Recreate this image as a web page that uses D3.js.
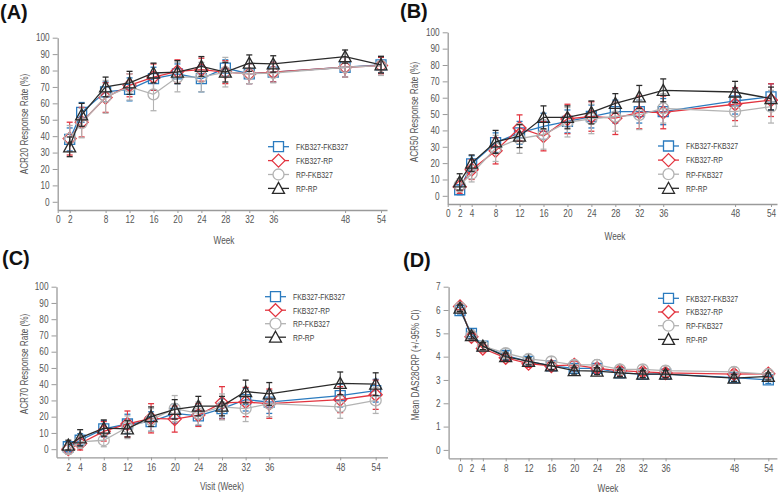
<!DOCTYPE html>
<html><head><meta charset="utf-8">
<script src="https://cdn.jsdelivr.net/npm/d3@7"></script>
<style>
body{margin:0;background:#fff;}
svg{display:block;}
text{font-family:"Liberation Sans",Arial,sans-serif;}
.title{font-family:"Liberation Sans",Arial,sans-serif;font-weight:bold;font-size:20px;fill:#111;}
</style></head>
<body>
<svg id="c" width="778" height="495"></svg>
<script>
// ---------- DATA ----------
const seriesNames = ["FKB327-FKB327","FKB327-RP","RP-FKB327","RP-RP"];
const seriesColors = ["#2b7bbf","#e2343f","#b3b3b3","#2a2a2a"];
const seriesShapes = ["square","diamond","circle","triangle"];

const weeksACR = [2,4,8,12,16,20,24,28,32,36,48,54];
const weeksDAS = [0,2,4,8,12,16,20,24,28,32,36,48,54];

const xTicksA = [0,2,8,12,16,20,24,28,32,36,48,54];
const xTicksB = [0,2,4,8,12,16,20,24,28,32,36,48,54];
const xTicksC = [2,4,8,12,16,20,24,28,32,36,48,54];
const xTicksD = [0,2,4,8,12,16,20,24,28,32,36,48,54];
const yTicksACR = [0,10,20,30,40,50,60,70,80,90,100];
const yTicksDAS = [0,1,2,3,4,5,6,7];

// ACR20 (%)  rows: FKB327-FKB327, FKB327-RP, RP-FKB327, RP-RP
const acr20Mean = [
  [38,54.5,67,68.5,75,78,75,81.5,78,79,82,83.5],
  [38.5,48.5,63.5,71,76,79.5,80.5,79,78,79,82,83],
  [38.5,48,64,70,65.5,76,76,79,78,78.5,82,83],
  [33.5,53,70,72.5,78.5,79,82.5,79,84.5,84,88.5,83.5]
];
const acr20Err = [
  [7,6,6,7,7,6,8,5,6,6,6,5],
  [10,9,9,7,8,7,7,7,6,6,6,5],
  [8,9,10,8,10,9,9,9,6,6,6,6],
  [6,7,6,7,6,7,6,6,5,5,4,5]
];
// ACR50 (%)
const acr50Mean = [
  [3.7,19.5,32.5,38.5,42.5,45.5,48.5,51.5,51.5,51.5,58,60.5],
  [5.5,16,27.5,41.5,36.5,47,48.5,47.5,51,51,56,58.5],
  [6.5,13.5,29,35,37.5,45,47,48.5,49.5,53.5,51.5,54.5],
  [8.5,20,33,36.5,48,48,51,56.5,60.5,64.5,63.5,59.5]
];
const acr50Err = [
  [3,5,6,7,8,7,7,7,7,8,8,8],
  [4,6,8,8,9,9,9,10,10,10,10,10],
  [4,5,8,9,9,9,9,9,9,9,9,10],
  [5,5,7,7,7,7,7,6,7,7,6.5,7]
];
// ACR70 (%)
const acr70Mean = [
  [1.5,5.5,12.5,15.5,17,22,20.5,25,30.5,29,33,36],
  [0,3.5,11,15.5,19,18.5,21,28.5,29,28,30.5,33.5],
  [0,4.5,5.5,13.5,18,25,22,26,25,28,26,30],
  [2.5,7,13,12.5,20,24.5,26.5,26.5,35.5,34,40.5,40]
];
const acr70Err = [
  [3,4,5,6,6,6,6,6,7,7,7,7],
  [3,4,6,8,9,8,7,10,9,9,8,9],
  [3,4,4,7,7,8,7,8,8,8,7,8],
  [3,5,5,5,6,6,6,6,7,7,7,7]
];
// Mean DAS28CRP
const dasMean = [
  [5.97,5.0,4.45,4.05,3.8,3.6,3.5,3.5,3.3,3.25,3.25,3.1,3.0],
  [6.15,4.85,4.35,3.95,3.7,3.6,3.65,3.5,3.4,3.35,3.3,3.25,3.27],
  [6.1,4.9,4.45,4.15,3.9,3.8,3.65,3.65,3.45,3.45,3.4,3.35,3.25],
  [6.08,4.9,4.45,4.0,3.8,3.6,3.4,3.38,3.3,3.25,3.25,3.08,3.15]
];
const dasErr = [
  [0.14,0.14,0.15,0.15,0.15,0.15,0.15,0.15,0.15,0.15,0.15,0.15,0.15],
  [0.14,0.14,0.15,0.15,0.16,0.16,0.16,0.16,0.16,0.16,0.16,0.18,0.18],
  [0.14,0.15,0.17,0.2,0.2,0.2,0.2,0.22,0.2,0.2,0.2,0.2,0.2],
  [0.14,0.14,0.15,0.15,0.15,0.15,0.15,0.15,0.15,0.15,0.15,0.15,0.15]
];

// ---------- DRAWING ----------
const svg = d3.select("#c");

// condense text horizontally (emulates a narrow typeface)
function narrow(sel, f){
  sel.each(function(){
    const w = this.getComputedTextLength();
    d3.select(this).attr("textLength", w*f).attr("lengthAdjust","spacingAndGlyphs");
  });
}

function shapePath(shape){
  if(shape==="square") return "M-5,-5H5V5H-5Z";
  if(shape==="diamond") return "M0,-6.5L6.5,0L0,6.5L-6.5,0Z";
  if(shape==="triangle") return "M0,-6L6,5H-6Z";
  return d3.symbol(d3.symbolCircle, Math.PI*5.5*5.5)();
}

function drawPanel(cfg){
  const g = svg.append("g");
  const x = d3.scaleLinear().domain(cfg.xDomain).range(cfg.xRange);
  const y = d3.scaleLinear().domain(cfg.yDomain).range(cfg.yRange);

  // axes
  const ax = d3.axisBottom(x).tickValues(cfg.xTicks).tickSize(3).tickPadding(3).tickSizeOuter(0);
  const ay = d3.axisLeft(y).tickValues(cfg.yTicks).tickSize(5).tickPadding(3).tickSizeOuter(0);
  const gx = g.append("g").attr("transform",`translate(0,${cfg.yRange[0]})`).call(ax);
  const gy = g.append("g").attr("transform",`translate(${cfg.xRange[0]},0)`).call(ay);
  [gx,gy].forEach(a=>{
    a.select(".domain").attr("stroke","#9a9a9a").attr("stroke-width",1.3);
    a.selectAll(".tick line").attr("stroke","#9a9a9a");
    a.selectAll(".tick text").attr("fill","#555").style("font-size","10.3px")
      .style("font-family",'"Liberation Sans",Arial,sans-serif');
    narrow(a.selectAll(".tick text"), 0.8);
  });

  // axis titles
  const xl = g.append("text").attr("x",cfg.xLabelX).attr("y",cfg.xLabelY).attr("text-anchor","middle")
    .attr("fill","#555").style("font-size","10.3px").text(cfg.xLabel);
  const yl = g.append("text").attr("transform",`translate(${cfg.yLabelX},${cfg.yLabelY}) rotate(-90)`)
    .attr("text-anchor","middle").attr("fill","#555").style("font-size","10.3px").text(cfg.yLabel);
  narrow(xl, 0.8); narrow(yl, 0.8);

  // panel title
  svg.append("text").attr("class","title").attr("x",cfg.titleX).attr("y",cfg.titleY).text(cfg.title);

  // series
  const line = d3.line().x(d=>x(d.w)).y(d=>y(d.v));
  cfg.means.forEach((vals,si)=>{
    const col = seriesColors[si];
    const pts = vals.map((v,i)=>({w:cfg.weeks[i],v:v,e:cfg.errs[si][i]}));
    const sg = g.append("g");
    sg.append("path").datum(pts).attr("d",line).attr("fill","none")
      .attr("stroke",col).attr("stroke-width",1.3);
    const eb = sg.selectAll(".eb").data(pts).enter().append("g");
    eb.append("line").attr("x1",d=>x(d.w)).attr("x2",d=>x(d.w))
      .attr("y1",d=>y(d.v-d.e)).attr("y2",d=>y(d.v+d.e)).attr("stroke",col).attr("stroke-width",1.1);
    eb.append("line").attr("x1",d=>x(d.w)-3).attr("x2",d=>x(d.w)+3)
      .attr("y1",d=>y(d.v+d.e)).attr("y2",d=>y(d.v+d.e)).attr("stroke",col).attr("stroke-width",1.3);
    eb.append("line").attr("x1",d=>x(d.w)-3).attr("x2",d=>x(d.w)+3)
      .attr("y1",d=>y(d.v-d.e)).attr("y2",d=>y(d.v-d.e)).attr("stroke",col).attr("stroke-width",1.3);
    sg.selectAll(".mk").data(pts).enter().append("path")
      .attr("transform",d=>`translate(${x(d.w)},${y(d.v)})`)
      .attr("d",shapePath(seriesShapes[si])).attr("fill","none")
      .attr("stroke",col).attr("stroke-width",1.3);
  });

  // legend
  const lg = g.append("g");
  seriesNames.forEach((nm,si)=>{
    const yy = cfg.legendY + si*cfg.legendStep;
    const col = seriesColors[si];
    lg.append("line").attr("x1",cfg.legendX).attr("x2",cfg.legendX+21)
      .attr("y1",yy).attr("y2",yy).attr("stroke",col).attr("stroke-width",1.3);
    lg.append("path").attr("transform",`translate(${cfg.legendX+10.5},${yy})`)
      .attr("d",shapePath(seriesShapes[si])).attr("fill","#fff")
      .attr("stroke",col).attr("stroke-width",1.3);
    const t = lg.append("text").attr("x",cfg.legendX+28).attr("y",yy+3.3)
      .attr("fill","#444").style("font-size","9.2px").text(nm);
    narrow(t, 0.75);
  });
}

drawPanel({title:"(A)",titleX:0,titleY:19,
  xDomain:[0,55],xRange:[57.7,387],yDomain:[-5,100],yRange:[210,37.7],
  xTicks:xTicksA,yTicks:yTicksACR,weeks:weeksACR,means:acr20Mean,errs:acr20Err,
  xLabel:"Week",xLabelX:224,xLabelY:244,yLabel:"ACR20 Response Rate (%)",yLabelX:28,yLabelY:124,
  legendX:268,legendY:146.7,legendStep:13.9});

drawPanel({title:"(B)",titleX:400,titleY:18,
  xDomain:[0,55],xRange:[447.7,777],yDomain:[-5,100],yRange:[204,32.3],
  xTicks:xTicksB,yTicks:yTicksACR,weeks:weeksACR,means:acr50Mean,errs:acr50Err,
  xLabel:"Week",xLabelX:615,xLabelY:240,yLabel:"ACR50 Response Rate (%)",yLabelX:418,yLabelY:112,
  legendX:658,legendY:146,legendStep:14.1});

drawPanel({title:"(C)",titleX:2,titleY:265,
  xDomain:[0,56],xRange:[56.5,387.5],yDomain:[-5,100],yRange:[457.3,286.7],
  xTicks:xTicksC,yTicks:yTicksACR,weeks:weeksACR,means:acr70Mean,errs:acr70Err,
  xLabel:"Visit (Week)",xLabelX:222,xLabelY:490,yLabel:"ACR70 Response Rate (%)",yLabelX:28,yLabelY:364,
  legendX:265,legendY:296.7,legendStep:13.5});

drawPanel({title:"(D)",titleX:403,titleY:267,
  xDomain:[-2,55.5],xRange:[448.6,776.9],yDomain:[-0.36,7],yRange:[458.3,286.7],
  xTicks:xTicksD,yTicks:yTicksDAS,weeks:weeksDAS,means:dasMean,errs:dasErr,
  xLabel:"Week",xLabelX:608,xLabelY:492,yLabel:"Mean DAS28CRP (+/-95% CI)",yLabelX:419,yLabelY:365,
  legendX:658,legendY:298.3,legendStep:13.7});
</script>
</body></html>
